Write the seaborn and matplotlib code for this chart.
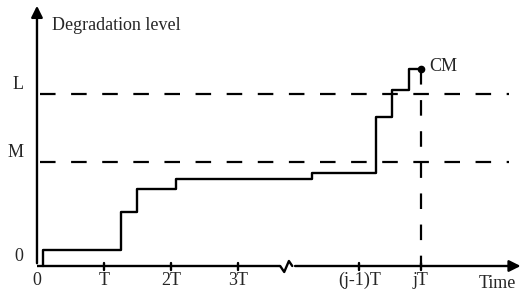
import numpy as np
import pandas as pd
import seaborn as sns
import matplotlib.pyplot as plt

# degradation path (time in units of T, level in arbitrary units)
step_times = [0.09, 0.09, 1.25, 1.49, 2.07, 4.10, 5.06, 5.30, 5.55, 5.73]
step_levels = [0.0, 0.16, 0.54, 0.77, 0.87, 0.93, 1.49, 1.76, 1.97, 1.97]

M_level = 1.04
L_level = 1.72
cm_time = 5.73
cm_level = 1.97

tick_pos = [0, 1, 2, 3, 4.81, 5.73]
tick_labels = ['0', 'T', '2T', '3T', '(j-1)T', 'jT']
ytick_pos = [0, M_level, L_level]
ytick_labels = ['0', 'M', 'L']

# axis break on the time axis
break_x = [3.63, 3.69, 3.76, 3.81]
break_y = [0.0, -0.06, 0.05, 0.0]

sns.set_style('white')
plt.rcParams['font.family'] = ['Liberation Serif', 'DejaVu Serif']
plt.rcParams['font.size'] = 13

fig = plt.figure(figsize=(5.23, 2.97), dpi=100)
ax = fig.add_axes([0, 0, 1, 1])
ax.set_xlim(-0.552, 7.254)
ax.set_ylim(-0.31, 2.66)
for s in ax.spines.values():
    s.set_visible(False)

df = pd.DataFrame({'time': step_times, 'level': step_levels})
sns.lineplot(data=df, x='time', y='level', ax=ax, estimator=None, sort=False,
             drawstyle='steps-post', color='black', lw=1.7)

# threshold lines
dash = (0, (7, 7))
ax.plot([0.04, 7.05], [L_level, L_level], color='black', lw=1.6, ls=dash)
ax.plot([0.04, 7.05], [M_level, M_level], color='black', lw=1.6, ls=dash)
ax.plot([cm_time, cm_time], [cm_level, 0], color='black', lw=1.6, ls=dash)
ax.plot([cm_time], [cm_level], 'o', color='black', ms=4.5)
ax.text(cm_time + 0.13, cm_level + 0.03, 'CM', va='center', ha='left')

# axes with arrows
ax.annotate('', xy=(0, 2.63), xytext=(0, 0),
            arrowprops=dict(arrowstyle='-|>', color='black', lw=1.7, mutation_scale=17))
ax.plot([0, break_x[0]], [0, 0], color='black', lw=1.7, solid_capstyle='butt')
ax.plot(break_x, break_y, color='black', lw=1.7)
ax.annotate('', xy=(7.26, 0), xytext=(break_x[-1], 0),
            arrowprops=dict(arrowstyle='-|>', color='black', lw=1.7, mutation_scale=17))

# ticks
for t in tick_pos[1:]:
    ax.plot([t, t], [-0.04, 0.03], color='black', lw=1.7)
for t, lab in zip(tick_pos, tick_labels):
    ax.text(t, -0.06, lab, ha='center', va='top')
for t, lab in zip(ytick_pos, ytick_labels):
    ax.text(-0.2, t + 0.01, lab, ha='right', va='bottom')

ax.text(0.22, 2.41, 'Degradation level', ha='left', va='center')
ax.text(6.87, -0.17, 'Time', ha='center', va='center')

ax.set_xlabel('')
ax.set_ylabel('')
ax.set_xticks([])
ax.set_yticks([])

fig.savefig('out.png', dpi=100)
